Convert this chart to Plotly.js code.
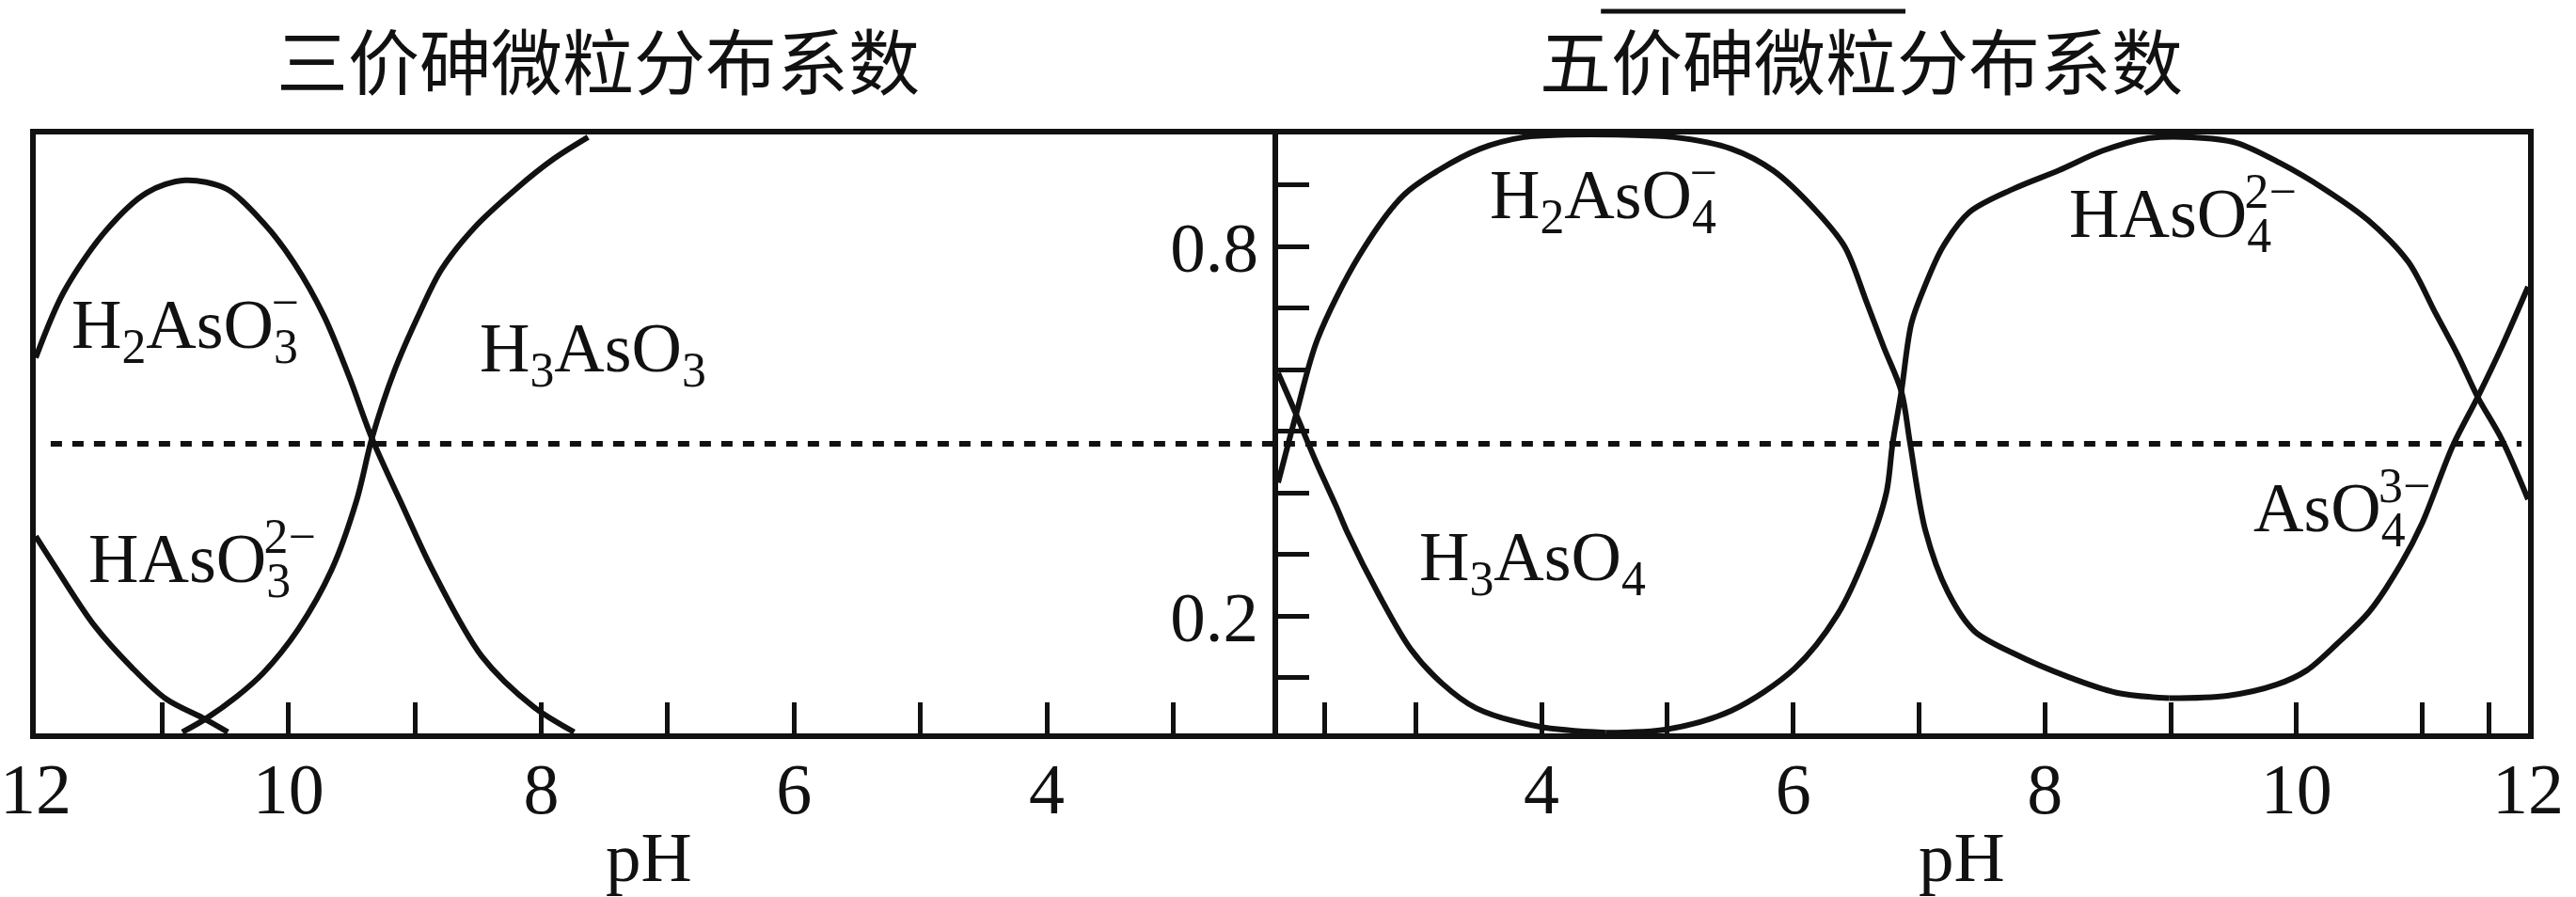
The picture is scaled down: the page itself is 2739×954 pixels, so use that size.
<!DOCTYPE html>
<html>
<head>
<meta charset="utf-8">
<script src="https://cdn.plot.ly/plotly-3.0.1.min.js"></script>
<style>
  html, body { margin: 0; padding: 0; background: #fff; }
  #chart { width: 2739px; height: 954px; }
</style>
</head>
<body>
<div id="chart"></div>
<script>
// Axis extents: the As(III) panel runs from pH 12 downwards, the As(V) panel up to pH 12
const phRangeIII = [12, 2.17];
const phRangeV = [1.907, 11.84];
const fractionRange = [0.0099, 0.9824];

const phTicksIII = [12, 10, 8, 6, 4];
const phMinorIII = [11, 9, 7, 5, 3];
const phTicksV = [4, 6, 8, 10, 11.84];
const phTickTextV = ['4', '6', '8', '10', '12'];
const phMinorV = [2.28, 3, 5, 7, 9, 11, 11.53];
const fracTicks = [0.2, 0.8];
const fracMinor = [0.1, 0.3, 0.4, 0.5, 0.6, 0.7, 0.9];
const halfLevel = 0.48;

// 三价砷 (As(III)) species
const h2aso3PH = [12.0, 11.78, 11.45, 11.12, 10.82, 10.49, 10.19, 9.96, 9.72, 9.52, 9.34, 9.09, 8.86, 8.47, 8.06, 7.74];
const h2aso3F  = [0.62, 0.726, 0.825, 0.888, 0.908, 0.894, 0.837, 0.775, 0.688, 0.589, 0.489, 0.376, 0.275, 0.135, 0.053, 0.012];

const h3aso3PH = [10.84, 10.66, 10.42, 10.2, 9.92, 9.66, 9.46, 9.34, 9.16, 8.96, 8.79, 8.53, 8.2, 7.9, 7.63];
const h3aso3F  = [0.012, 0.033, 0.068, 0.108, 0.18, 0.275, 0.389, 0.489, 0.6, 0.694, 0.763, 0.831, 0.894, 0.943, 0.978];

const haso3PH = [12.0, 11.86, 11.54, 11.24, 10.97, 10.66, 10.48];
const haso3F  = [0.33, 0.285, 0.186, 0.117, 0.066, 0.033, 0.012];

// 五价砷 (As(V)) species
const h3aso4PH = [1.907, 2.05, 2.21, 2.37, 2.46, 2.71, 2.96, 3.21, 3.48, 3.98, 4.51];
const h3aso4F  = [0.595, 0.528, 0.45, 0.378, 0.335, 0.234, 0.147, 0.091, 0.051, 0.021, 0.011];

const h2aso4PH = [1.907, 2.05, 2.22, 2.55, 2.9, 3.18, 3.51, 3.86, 4.2, 4.6, 5.05, 5.51, 5.84, 6.17, 6.41, 6.58, 6.72, 6.86, 6.93, 7.05, 7.23, 7.44, 7.75, 8.18, 8.57, 8.99];
const h2aso4F  = [0.417, 0.528, 0.65, 0.785, 0.883, 0.924, 0.959, 0.978, 0.982, 0.982, 0.978, 0.959, 0.924, 0.861, 0.8, 0.712, 0.637, 0.565, 0.48, 0.34, 0.239, 0.176, 0.14, 0.102, 0.076, 0.067];

const haso4PH = [4.51, 5.01, 5.51, 6.01, 6.35, 6.58, 6.74, 6.79, 6.86, 6.94, 7.05, 7.19, 7.4, 7.75, 8.11, 8.46, 8.81, 9.16, 9.52, 9.87, 10.22, 10.57, 10.89, 11.1, 11.28, 11.44, 11.63, 11.84];
const haso4F  = [0.011, 0.017, 0.047, 0.115, 0.202, 0.301, 0.4, 0.48, 0.565, 0.676, 0.738, 0.8, 0.856, 0.894, 0.924, 0.956, 0.976, 0.978, 0.969, 0.936, 0.894, 0.843, 0.775, 0.694, 0.625, 0.556, 0.488, 0.39];

const aso4PH = [8.99, 9.45, 9.84, 10.08, 10.32, 10.58, 10.83, 11.0, 11.24, 11.44, 11.63, 11.84];
const aso4F  = [0.067, 0.071, 0.089, 0.112, 0.155, 0.208, 0.285, 0.352, 0.476, 0.556, 0.637, 0.735];

// Species labels: [text, pH of left edge, fraction at cap centre, axis]
const speciesLabels = [
  ['H<sub>2</sub>AsO<sub style="letter-spacing:-0.55em">3</sub><sup>−</sup>', 11.73, 0.674, 'x'],
  ['HAsO<sub style="letter-spacing:-0.55em">3</sub><sup>2−</sup>', 11.60, 0.301, 'x'],
  ['H<sub>3</sub>AsO<sub>3</sub>', 8.50, 0.627, 'x'],
  ['H<sub>2</sub>AsO<sub style="letter-spacing:-0.55em">4</sub><sup>−</sup>', 3.57, 0.885, 'x2'],
  ['H<sub>3</sub>AsO<sub>4</sub>', 3.01, 0.289, 'x2'],
  ['HAsO<sub style="letter-spacing:-0.55em">4</sub><sup>2−</sup>', 8.18, 0.863, 'x2'],
  ['AsO<sub style="letter-spacing:-0.55em">4</sub><sup>3−</sup>', 9.64, 0.384, 'x2']
];

const panelTitles = [['三价砷微粒分布系数', 7.55, 'x'], ['五价砷微粒分布系数', 6.54, 'x2']];
const axisTitles = [['pH', 7.15, 'x'], ['pH', 7.34, 'x2']];

const SERIF = 'Liberation Serif, Times New Roman, serif';
const CJK = 'Noto Sans CJK SC, sans-serif';
const INK = '#111';
const STROKE = 6;

function curve(x, y, xa, ya, name) {
  return {
    x: x, y: y, xaxis: xa, yaxis: ya, name: name,
    type: 'scatter', mode: 'lines',
    line: { color: INK, width: STROKE, shape: 'spline', smoothing: 0.9 },
    hoverinfo: 'skip', showlegend: false
  };
}

const traces = [
  curve(h2aso3PH, h2aso3F, 'x', 'y', 'H2AsO3-'),
  curve(h3aso3PH, h3aso3F, 'x', 'y', 'H3AsO3'),
  curve(haso3PH, haso3F, 'x', 'y', 'HAsO3 2-'),
  curve(h3aso4PH, h3aso4F, 'x2', 'y2', 'H3AsO4'),
  curve(h2aso4PH, h2aso4F, 'x2', 'y2', 'H2AsO4-'),
  curve(haso4PH, haso4F, 'x2', 'y2', 'HAsO4 2-'),
  curve(aso4PH, aso4F, 'x2', 'y2', 'AsO4 3-')
];

const split = 1321 / 2650;

const minorTicks = vals => ({
  tickmode: 'array', tickvals: vals, ticks: 'inside', ticklen: 33, tickwidth: 5, tickcolor: INK, showgrid: false
});

const xCommon = {
  showline: true, linecolor: INK, linewidth: STROKE, mirror: true,
  showgrid: false, zeroline: false,
  ticks: 'inside', ticklen: 33, tickwidth: 5, tickcolor: INK,
  ticklabelstandoff: -12,
  tickfont: { family: SERIF, size: 76, color: INK },
  fixedrange: true
};

const layout = {
  width: 2739, height: 954,
  margin: { l: 38, r: 51, t: 143, b: 174 },
  paper_bgcolor: '#fff', plot_bgcolor: '#fff',
  showlegend: false,
  xaxis: Object.assign({}, xCommon, {
    domain: [0, split], anchor: 'y', range: phRangeIII,
    tickmode: 'array', tickvals: phTicksIII, ticktext: phTicksIII.map(String),
    minor: minorTicks(phMinorIII)
  }),
  xaxis2: Object.assign({}, xCommon, {
    domain: [split, 1], anchor: 'y2', range: phRangeV,
    tickmode: 'array', tickvals: phTicksV, ticktext: phTickTextV,
    minor: minorTicks(phMinorV)
  }),
  yaxis: {
    anchor: 'x', range: fractionRange, showline: true, linecolor: INK, linewidth: STROKE, mirror: false,
    showgrid: false, zeroline: false, ticks: '', showticklabels: false, fixedrange: true
  },
  yaxis2: {
    anchor: 'x2', range: fractionRange, showline: true, linecolor: INK, linewidth: STROKE, mirror: true,
    showgrid: false, zeroline: false,
    ticks: 'inside', ticklen: 33, tickwidth: 5, tickcolor: INK,
    tickmode: 'array', tickvals: fracTicks, ticktext: fracTicks.map(v => v.toFixed(1)),
    tickfont: { family: SERIF, size: 75, color: INK },
    minor: minorTicks(fracMinor),
    fixedrange: true
  },
  shapes: [
    // dotted reference level across both panels
    { type: 'line', xref: 'paper', yref: 'y', x0: 0.006, x1: 0.9974, y0: halfLevel, y1: halfLevel,
      line: { color: INK, width: 6, dash: '12px,11px' } },
    // answer blank from the line of text above
    { type: 'line', xref: 'paper', yref: 'paper', x0: 0.628, x1: 0.7502, y0: 1.2057, y1: 1.2057,
      line: { color: INK, width: 5 } }
  ],
  annotations: []
};

speciesLabels.forEach(([text, x, y, xa]) => {
  layout.annotations.push({
    text: text, x: x, y: y, xref: xa, yref: xa === 'x' ? 'y' : 'y2',
    xanchor: 'left', yanchor: 'middle', showarrow: false,
    font: { family: SERIF, size: 74, color: INK }
  });
});

panelTitles.forEach(([text, x, xa]) => {
  layout.annotations.push({
    text: text, x: x, y: 1.127, xref: xa, yref: 'paper',
    xanchor: 'center', yanchor: 'middle', showarrow: false,
    font: { family: CJK, size: 76, color: INK }
  });
});

axisTitles.forEach(([text, x, xa]) => {
  layout.annotations.push({
    text: text, x: x, y: -0.2072, xref: xa, yref: 'paper',
    xanchor: 'center', yanchor: 'middle', showarrow: false,
    font: { family: SERIF, size: 75, color: INK }
  });
});

Plotly.newPlot('chart', traces, layout, { staticPlot: true, displayModeBar: false });
</script>
</body>
</html>
